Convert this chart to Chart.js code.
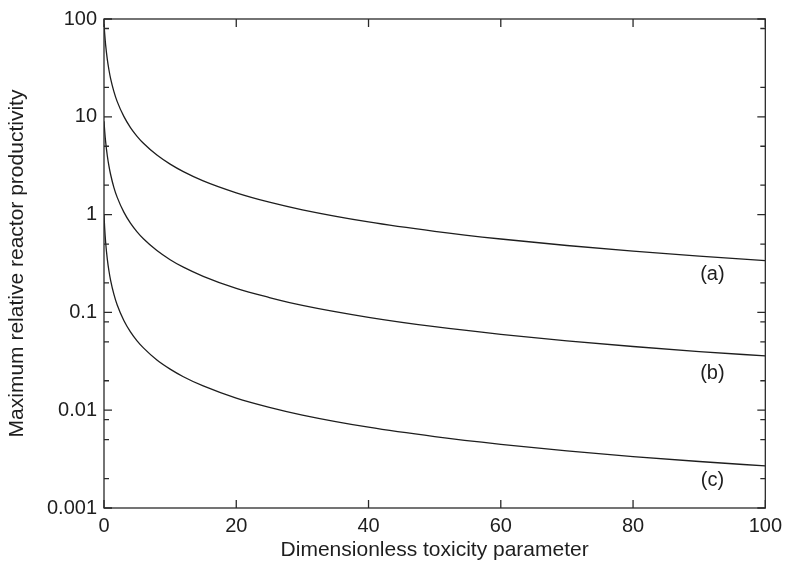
<!DOCTYPE html>
<html>
<head>
<meta charset="utf-8">
<script src="https://cdn.jsdelivr.net/npm/chart.js@4.4.0/dist/chart.umd.min.js"></script>
<style>
  html, body { margin: 0; padding: 0; background: #fff; }
  #wrap { width: 788px; height: 570px; }
</style>
</head>
<body>
<div id="wrap"><canvas id="chart"></canvas></div>
<script>
// values (log y axis)
const toxicity = [0, 0.1, 0.25, 0.5, 0.75, 1, 1.5, 2, 3, 4, 5, 6, 8, 10, 12, 15, 20, 25, 30, 40, 50, 60, 70, 80, 90, 100];
const curveA = [89, 70.8, 54, 38.6, 30.1, 24.6, 18.1, 14.3, 10.1, 7.76, 6.32, 5.33, 4.06, 3.28, 2.75, 2.21, 1.67, 1.34, 1.12, 0.842, 0.675, 0.563, 0.483, 0.423, 0.376, 0.339];
const curveB = [9.0, 7.2, 5.54, 4.0, 3.13, 2.57, 1.89, 1.5, 1.06, 0.818, 0.667, 0.563, 0.429, 0.346, 0.29, 0.234, 0.176, 0.142, 0.118, 0.0891, 0.0714, 0.0596, 0.0511, 0.0448, 0.0398, 0.0359];
const curveC = [1.0, 0.73, 0.519, 0.351, 0.265, 0.213, 0.153, 0.119, 0.0826, 0.0632, 0.0512, 0.0431, 0.0326, 0.0263, 0.022, 0.0177, 0.0133, 0.0107, 0.00892, 0.0067, 0.00537, 0.00448, 0.00384, 0.00336, 0.00299, 0.00269];
const curveNames = ['(a)', '(b)', '(c)'];
const curveLabelAt = [[92, 0.242], [92, 0.0237], [92, 0.00192]];

const xTicks = [0, 20, 40, 60, 80, 100];
const yTicks = [0.001, 0.01, 0.1, 1, 10, 100];
const yMinorTicks = [80, 20, 5, 2, 0.5, 0.2, 0.08, 0.05, 0.02, 0.008, 0.005, 0.002];

const ink = '#1e1e1e';
const font = 'Liberation Sans, Arial, Helvetica, sans-serif';

function pts(ys) {
    return toxicity.map((x, i) => ({ x: x, y: ys[i] }));
}

// frame, inward ticks on all four sides, and the (a)/(b)/(c) labels
const framePlugin = {
    id: 'frame',
    afterDraw(chart) {
        const ctx = chart.ctx;
        const a = chart.chartArea;
        const xs = chart.scales.x;
        const ys = chart.scales.y;
        ctx.save();
        ctx.strokeStyle = '#2a2a2a';
        ctx.lineWidth = 1.3;
        ctx.strokeRect(a.left, a.top, a.right - a.left, a.bottom - a.top);
        ctx.beginPath();
        xTicks.forEach(v => {
            const px = xs.getPixelForValue(v);
            ctx.moveTo(px, a.bottom); ctx.lineTo(px, a.bottom - 8);
            ctx.moveTo(px, a.top); ctx.lineTo(px, a.top + 8);
        });
        yTicks.forEach(v => {
            const py = ys.getPixelForValue(v);
            ctx.moveTo(a.left, py); ctx.lineTo(a.left + 8, py);
            ctx.moveTo(a.right, py); ctx.lineTo(a.right - 8, py);
        });
        yMinorTicks.forEach(v => {
            const py = ys.getPixelForValue(v);
            ctx.moveTo(a.left, py); ctx.lineTo(a.left + 5, py);
            ctx.moveTo(a.right, py); ctx.lineTo(a.right - 5, py);
        });
        ctx.stroke();

        ctx.fillStyle = ink;
        ctx.font = '20px ' + font;
        ctx.textAlign = 'center';
        ctx.textBaseline = 'middle';
        curveNames.forEach((name, i) => {
            const p = curveLabelAt[i];
            ctx.fillText(name, xs.getPixelForValue(p[0]), ys.getPixelForValue(p[1]));
        });
        ctx.restore();
    }
};

const lineStyle = {
    borderColor: ink,
    borderWidth: 1.3,
    pointRadius: 0,
    fill: false,
    cubicInterpolationMode: 'monotone'
};

new Chart(document.getElementById('chart').getContext('2d'), {
    type: 'line',
    data: {
        datasets: [
            Object.assign({ label: curveNames[0], data: pts(curveA) }, lineStyle),
            Object.assign({ label: curveNames[1], data: pts(curveB) }, lineStyle),
            Object.assign({ label: curveNames[2], data: pts(curveC) }, lineStyle)
        ]
    },
    options: {
        responsive: true,
        maintainAspectRatio: false,
        animation: false,
        layout: { padding: { top: 13, right: 19, left: 0, bottom: 0 } },
        plugins: {
            legend: { display: false },
            tooltip: { enabled: false }
        },
        scales: {
            x: {
                type: 'linear',
                min: 0,
                max: 100,
                grid: { display: false, drawTicks: false },
                border: { display: false },
                afterBuildTicks: s => { s.ticks = xTicks.map(v => ({ value: v })); },
                afterFit: s => { s.height = 62; },
                ticks: {
                    padding: 6,
                    color: ink,
                    font: { family: font, size: 20 },
                    maxRotation: 0
                },
                title: {
                    display: true,
                    text: 'Dimensionless toxicity parameter',
                    color: ink,
                    font: { family: font, size: 21 },
                    padding: { top: 0, bottom: 7 }
                }
            },
            y: {
                type: 'logarithmic',
                min: 0.001,
                max: 100,
                grid: { display: false, drawTicks: false },
                border: { display: false },
                afterBuildTicks: s => { s.ticks = yTicks.map(v => ({ value: v })); },
                afterFit: s => { s.width = 104; },
                ticks: {
                    padding: 7,
                    color: ink,
                    font: { family: font, size: 20 },
                    callback: v => String(v)
                },
                title: {
                    display: true,
                    text: 'Maximum relative reactor productivity',
                    color: ink,
                    font: { family: font, size: 21 },
                    padding: { top: 5, bottom: 0 }
                }
            }
        }
    },
    plugins: [framePlugin]
});
</script>
</body>
</html>
